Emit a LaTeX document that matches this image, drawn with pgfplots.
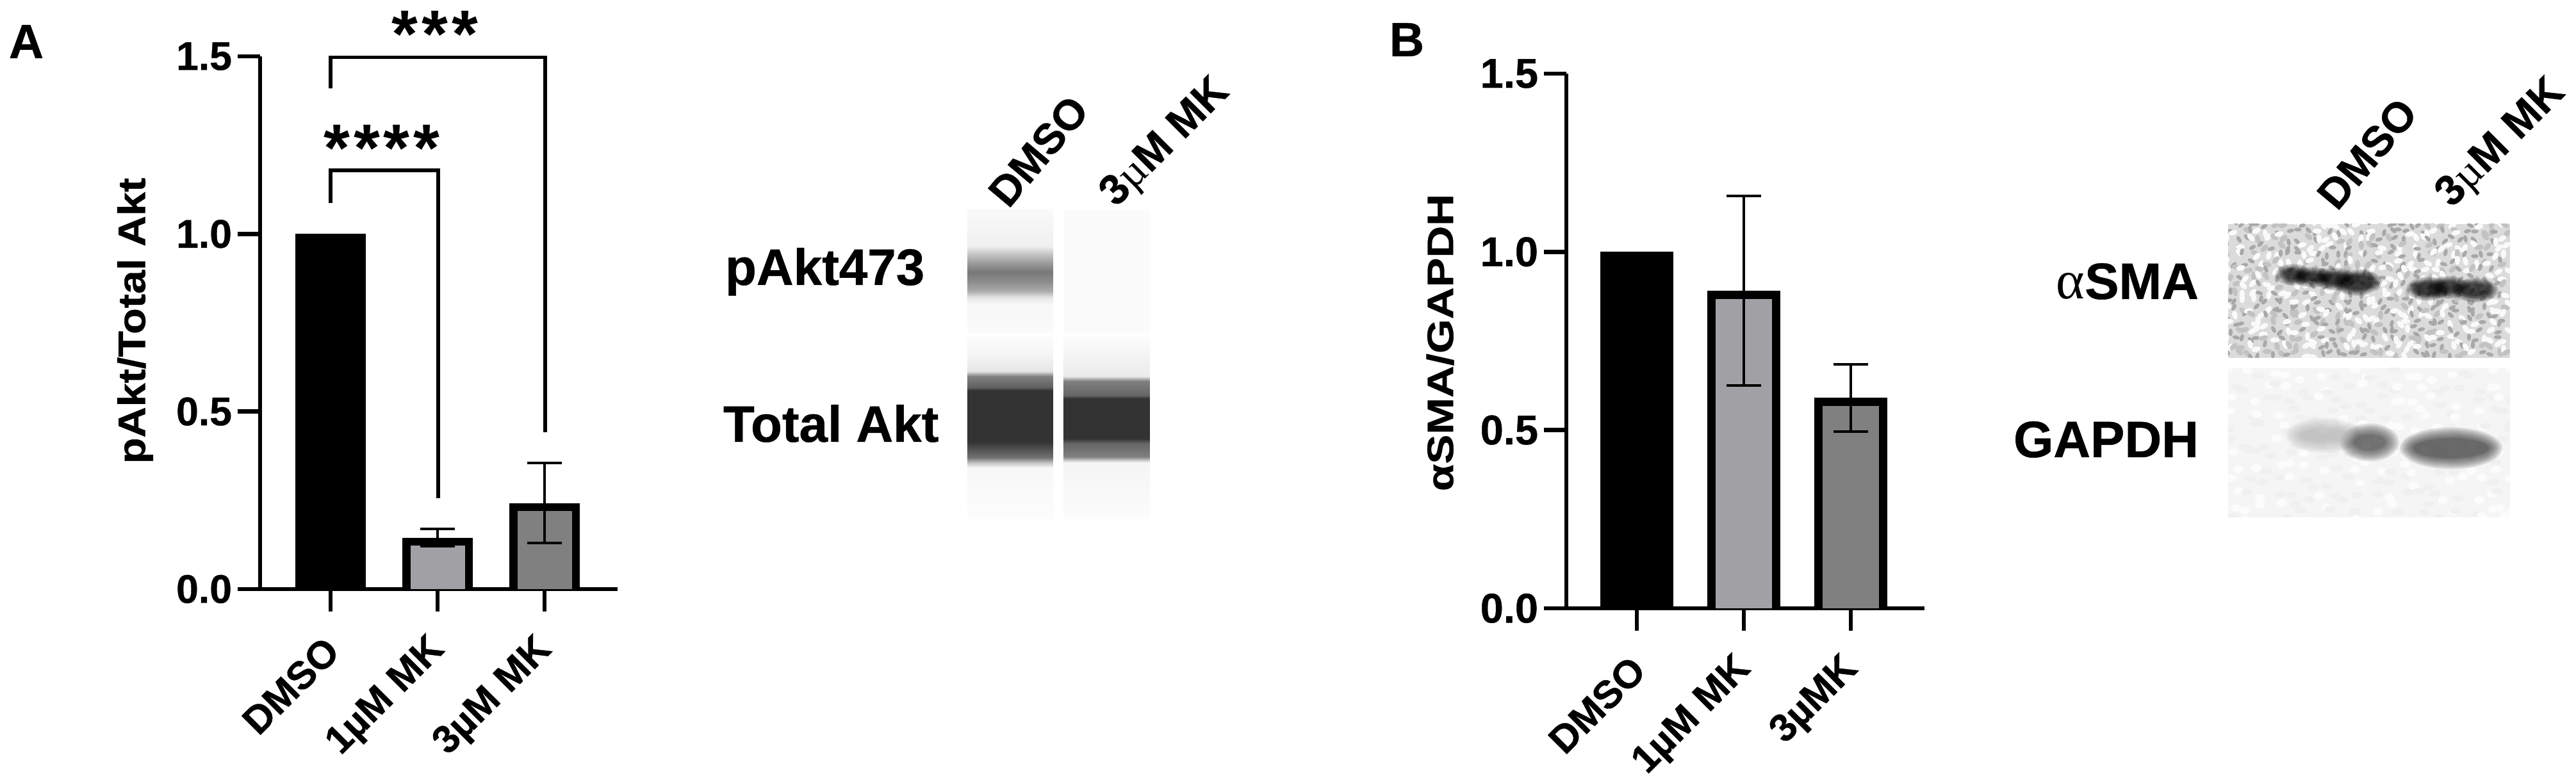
\documentclass[border=0pt]{standalone}
\usepackage{graphicx}
\usepackage{fontspec}
\setmainfont{Liberation Sans}[BoldFeatures={FakeBold=0.6}]
\newfontfamily\thinserif{Liberation Serif}
\newfontfamily\starfont{Liberation Sans Bold}
\usepackage{pgfplots}
\pgfplotsset{compat=1.18}
\newcommand\fs[1]{\fontsize{#1pt}{#1pt}\selectfont\bfseries}
\definecolor{barA}{HTML}{A1A1A5}
\definecolor{barB}{HTML}{808080}
\pgfdeclareverticalshading{uOne}{100bp}{color(0bp)=(black!2); color(25bp)=(black!2); color(36.7bp)=(black!3); color(39.3bp)=(black!10); color(42bp)=(black!33); color(45.8bp)=(black!45); color(49.7bp)=(black!53); color(53.6bp)=(black!38); color(57.5bp)=(black!20); color(60.1bp)=(black!6); color(75bp)=(black!2); color(100bp)=(black!2)}
\pgfdeclareverticalshading{lOne}{100bp}{color(0bp)=(black!1); color(25bp)=(black!1); color(39bp)=(black!3); color(40.4bp)=(black!25); color(41.7bp)=(black!55); color(46.1bp)=(black!80); color(60.1bp)=(black!80); color(61bp)=(black!62); color(64bp)=(black!50); color(65.4bp)=(black!10); color(70bp)=(black!4); color(75bp)=(black!1); color(100bp)=(black!1)}
\pgfdeclareverticalshading{lTwo}{100bp}{color(0bp)=(black!1); color(25bp)=(black!1); color(40.4bp)=(black!4); color(42bp)=(black!50); color(45.6bp)=(black!60); color(46.9bp)=(black!80); color(57.9bp)=(black!80); color(58.8bp)=(black!60); color(62.7bp)=(black!50); color(64bp)=(black!8); color(70bp)=(black!4); color(75bp)=(black!1); color(100bp)=(black!1)}
\pgfplotsset{
  panel/.style={
    scale only axis, anchor=south west,
    ymin=0, ymax=1.5, ytick={0,0.5,1,1.5}, yticklabels={0.0,0.5,1.0,1.5},
    xtick={0,1,2},
    axis lines=left, axis line style={-, line width=1.3pt, black},
    tick style={line width=1.3pt, black}, major tick length=7pt,
    tick align=outside, minor tick num=0,
    yticklabel style={font=\fs{12.5}, inner sep=0pt, xshift=-1.6pt},
    xticklabel style={font=\fs{12.2}, rotate=45, anchor=east, inner sep=0pt, yshift=-7.6pt, xshift=-6.7pt},
  },
  gbar/.style={ybar, bar shift=0pt, bar width=19.5pt, line width=2.5pt, draw=black, fill=#1, yshift=-1.25pt, forget plot, line join=miter},
  gerr/.style={draw=none, no marks, forget plot,
    error bars/.cd, y dir=both, y explicit,
    error bar style={draw=black, line width=0.8pt},
    error mark options={black, rotate=90, mark size=5.4pt, line width=0.8pt}},
  brk/.style={draw=black, line width=1.3pt, line join=miter, no marks, forget plot},
}
\newcommand\stars[1]{{\starfont\fontsize{21pt}{21pt}\selectfont\foreach \s in {1,...,#1}{*\kern1.2pt}\unskip}}
\begin{document}
\begin{tikzpicture}
\path[use as bounding box] (0,0) rectangle (804.2pt,243pt);
\begin{axis}[panel, at={(81.2pt,59pt)}, width=111.6pt, height=166.4pt,
  xmin=-0.6587, xmax=2.6826,
  xticklabels={DMSO,1µM MK,3µM MK}]
\addplot[gbar=black] coordinates {(0,1.0)};
\addplot[gbar=barA] coordinates {(1,0.145)};
\addplot[gbar=barB] coordinates {(2,0.242)};
\addplot[gerr] coordinates {(1,0.145) +- (0,0.025)};
\addplot[gerr] coordinates {(2,0.242) +- (0,0.113)};
\addplot[brk] coordinates {(0,1.087) (0,1.179) (1.006,1.179) (1.006,0.256)};
\addplot[brk] coordinates {(0,1.410) (0,1.498) (2.006,1.498) (2.006,0.442)};
\end{axis}
\begin{axis}[panel, at={(489pt,53pt)}, width=111.8pt, height=167pt,
  xmin=-0.6587, xmax=2.689,
  yticklabel style={font=\fs{13}},
  xticklabels={DMSO,1µM MK,3µMK}]
\addplot[gbar=black, bar width=20.2pt, line width=2.6pt] coordinates {(0,1.0)};
\addplot[gbar=barA, bar width=20.2pt, line width=2.6pt] coordinates {(1,0.891)};
\addplot[gbar=barB, bar width=20.2pt, line width=2.6pt] coordinates {(2,0.590)};
\addplot[gerr] coordinates {(1,0.891) +- (0,0.266)};
\addplot[gerr] coordinates {(2,0.590) +- (0,0.095)};
\end{axis}
\begin{scope}[shift={(0pt,243pt)}, x=0.2pt, y=-0.2pt]
% panel letters and y labels
\node[font=\fs{15}] at (41,65) {A};
\node[font=\fs{15}] at (2196,62) {B};
\node[font=\fs{12}, rotate=90] at (211,501) {\scalebox{1.11}[1]{pAkt/Total Akt}};
\node[font=\fs{11.5}, rotate=90] at (2248,535) {\scalebox{1.2}[1]{αSMA/GAPDH}};
% stars
\node[anchor=base] at (682,90) {\stars{3}};
\node[anchor=base] at (599,268) {\stars{4}};
% capillary lanes, panel A
\shade[shading=uOne] (1510,327) rectangle (1644,520);
\fill[black!1.5] (1660,327) rectangle (1795,520);
\shade[shading=lOne] (1510,525) rectangle (1644,810);
\shade[shading=lTwo] (1660,525) rectangle (1795,810);
\node[font=\fs{16}, anchor=base west, inner sep=0pt] at (1131,445) {pAkt473};
\node[font=\fs{16}, anchor=base west, inner sep=0pt] at (1128,690) {Total Akt};
\node[font=\fs{13.3}, rotate=50] at (1621,236) {DMSO};
\node[font=\fs{13.3}, rotate=45] at (1820,224) {3{\thinserif\fontsize{13.3pt}{13.3pt}\selectfont\mdseries µ}M MK};
% western blots, panel B
\begin{scope}
\clip (3478,350) rectangle (3918,559);
\fill[black!14] (3478,350) rectangle (3918,559);
\foreach \i in {0,...,36} {
  \foreach \j in {0,...,17} {
    \pgfmathtruncatemacro\ha{mod(\i*\i*5+\j*\j*13+\i*\j*3+\i*3,23)}
    \pgfmathtruncatemacro\hb{mod(\i*\i*3+\j*\j*3+\i*\j*2+\j*5,19)}
    \pgfmathsetmacro\xx{3478+\i*12+\ha*0.5-5}
    \pgfmathsetmacro\yy{350+\j*12+\hb*0.5-5}
    \pgfmathsetmacro\ang{\ha*15}
    \pgfmathtruncatemacro\kk{mod(\ha+\hb,5)}
    \ifnum\kk<2 \fill[black!34,rotate around={\ang:(\xx,\yy)}] (\xx,\yy) ellipse (6 and 3);
    \else\ifnum\kk=2 \fill[black!24,rotate around={\ang:(\xx,\yy)}] (\xx,\yy) ellipse (7 and 4);
    \else \fill[black!2,rotate around={\ang:(\xx,\yy)}] (\xx,\yy) ellipse (7 and 4);
    \fi\fi
  }
}
\end{scope}
\foreach \w in {14,11,8,6,4,2,0} {
  \foreach \cx/\cy/\rx/\ry in {3580/429/14/7, 3610/433/18/6, 3645/436/18/8, 3680/441/24/11, 3790/451/20/9, 3822/449/18/8, 3864/453/22/9} {
    \fill[black, opacity=0.17] (\cx,\cy) ellipse ({\rx+\w} and {\ry+\w*0.7});
  }
}
\begin{scope}
\clip (3478,575) rectangle (3918,808);
\fill[black!4] (3478,575) rectangle (3918,808);
\foreach \i in {0,...,20} {
  \foreach \j in {0,...,11} {
    \pgfmathtruncatemacro\ha{mod(\i*\i*5+\j*\j*13+\i*\j*3+\i*3,23)}
    \pgfmathtruncatemacro\hb{mod(\i*\i*3+\j*\j*3+\i*\j*2+\j*5,19)}
    \pgfmathsetmacro\xx{3478+\i*22+\ha}
    \pgfmathsetmacro\yy{575+\j*21+\hb}
    \ifodd\ha \fill[black!6] (\xx,\yy) ellipse (9 and 5); \else \fill[black!1] (\xx,\yy) ellipse (8 and 6); \fi
  }
}
\end{scope}
\foreach \w in {22,19,16,13,10,7,4,2,0} {
  \fill[black!30, opacity=0.12] (3628,680) ellipse ({38+\w} and {10+\w*0.8});
  \fill[black!75, opacity=0.13] (3699,691) ellipse ({24+\w} and {12+\w*0.8});
  \fill[black!80, opacity=0.13] (3826,700) ellipse ({58+\w} and {15+\w*0.8});
}
\node[anchor=base east, inner sep=0pt] at (3433,467) {{\thinserif\fontsize{17pt}{17pt}\selectfont α}{\fs{16}SMA}};
\node[font=\fs{16}, anchor=base east, inner sep=0pt] at (3433,714) {GAPDH};
\node[font=\fs{13.3}, rotate=50] at (3695,240) {DMSO};
\node[font=\fs{13.3}, rotate=45] at (3905,225) {3{\thinserif\fontsize{13.3pt}{13.3pt}\selectfont\mdseries µ}M MK};
\end{scope}
\end{tikzpicture}
\end{document}
